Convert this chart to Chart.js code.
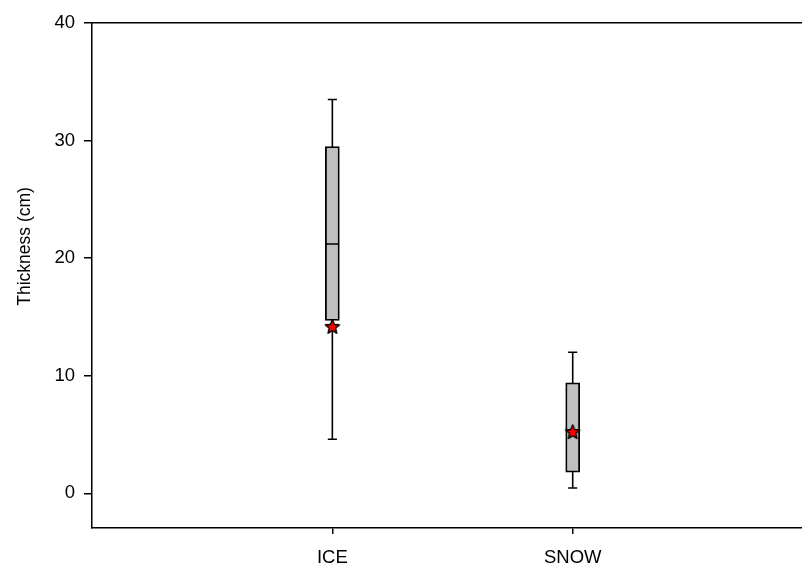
<!DOCTYPE html>
<html>
<head>
<meta charset="utf-8">
<script src="https://cdn.jsdelivr.net/npm/chart.js@4/dist/chart.umd.min.js"></script>
<style>
  html, body { margin: 0; padding: 0; background: #fff; }
  #wrap { width: 802px; height: 565px; }
</style>
</head>
<body>
<div id="wrap"><canvas id="boxChart"></canvas></div>
<script>
// box plot values (cm)
var categories = ['ICE', 'SNOW'];
var positions = [1, 2];
var whiskerLow = [4.6, 0.45];
var q1 = [14.7, 1.8];
var median = [21.2, 5.4];
var q3 = [29.5, 9.4];
var whiskerHigh = [33.5, 12.0];
var means = [14.2, 5.25];
var yTicks = [0, 10, 20, 30, 40];

var CAP = 0.019;   // half width of whisker caps, x units
var HALF = 0.027;  // half width of the box, x units
var TITLE_AT = 21; // y value the axis title is centred on

function makeStar(size) {
    var c = document.createElement('canvas');
    c.width = c.height = size;
    var g = c.getContext('2d');
    var cx = size / 2, cy = size / 2 + 0.8, R = size / 2 - 1, r = R * 0.45;
    g.beginPath();
    for (var i = 0; i < 10; i++) {
        var rad = i % 2 ? r : R;
        var a = -Math.PI / 2 + i * Math.PI / 5;
        g.lineTo(cx + rad * Math.cos(a), cy + rad * Math.sin(a));
    }
    g.closePath();
    g.fillStyle = '#ff0000';
    g.fill();
    g.lineWidth = 1.4;
    g.lineJoin = 'round';
    g.strokeStyle = '#000';
    g.stroke();
    return c;
}

var whiskerData = [];
positions.forEach(function (p, i) {
    whiskerData.push({x: p, y: whiskerLow[i]}, {x: p, y: whiskerHigh[i]}, {x: p, y: null});
    whiskerData.push({x: p - CAP, y: whiskerHigh[i]}, {x: p + CAP, y: whiskerHigh[i]}, {x: p, y: null});
    whiskerData.push({x: p - CAP, y: whiskerLow[i]}, {x: p + CAP, y: whiskerLow[i]}, {x: p, y: null});
});
var medianData = [];
positions.forEach(function (p, i) {
    medianData.push({x: p - HALF, y: median[i]}, {x: p + HALF, y: median[i]}, {x: p, y: null});
});

var yTitlePlugin = {
    id: 'yTitle',
    afterDraw: function (chart) {
        var ctx = chart.ctx;
        var y = chart.scales.y.getPixelForValue(TITLE_AT);
        ctx.save();
        ctx.translate(25, y);
        ctx.rotate(-Math.PI / 2);
        ctx.font = '17.5px "Liberation Sans", Arial, sans-serif';
        ctx.fillStyle = '#000';
        ctx.textAlign = 'center';
        ctx.textBaseline = 'middle';
        ctx.fillText('Thickness (cm)', 0, 0);
        ctx.restore();
    }
};

var font = { family: '"Liberation Sans", Arial, sans-serif', size: 18.5 };

function noSidePadding(axis) {
    axis.paddingLeft = 0;
    axis.paddingRight = 0;
}

var CHART = new Chart(document.getElementById('boxChart'), {
    type: 'bar',
    data: {
        datasets: [
            { type: 'line', data: whiskerData, borderColor: '#000', borderWidth: 1.6,
              pointRadius: 0, spanGaps: false, order: 3 },
            { type: 'bar', data: positions.map(function (p, i) { return {x: p, y: [q1[i], q3[i]]}; }),
              backgroundColor: '#c0c0c0', borderColor: '#000', borderWidth: 1.8,
              borderSkipped: false, barThickness: 14, order: 2 },
            { type: 'line', data: medianData, borderColor: '#000', borderWidth: 1.6,
              pointRadius: 0, spanGaps: false, order: 1 },
            { type: 'line', data: positions.map(function (p, i) { return {x: p, y: means[i]}; }),
              showLine: false, pointStyle: makeStar(17), pointRadius: 8, order: 0 }
        ]
    },
    options: {
        responsive: true,
        maintainAspectRatio: false,
        animation: false,
        layout: { autoPadding: false, padding: { top: 23, right: 0, left: 0, bottom: 0 } },
        plugins: { legend: { display: false }, tooltip: { enabled: false } },
        scales: {
            x: {
                type: 'linear', min: 0, max: 2.954, offset: false,
                grid: { display: true, drawOnChartArea: false, drawTicks: true, tickLength: 6,
                        color: '#000', lineWidth: 1.5, offset: false },
                border: { display: true, color: '#000', width: 1.5 },
                ticks: { color: '#000', font: font, padding: 13, maxRotation: 0,
                         callback: function (v, i) { return categories[i]; } },
                afterBuildTicks: function (axis) { axis.ticks = positions.map(function (v) { return {value: v}; }); },
                afterFit: function (axis) { axis.height = 37; noSidePadding(axis); }
            },
            x2: {
                type: 'linear', position: 'top', min: 0, max: 2.954,
                grid: { display: false, drawTicks: false },
                border: { display: true, color: '#000', width: 1.5 },
                ticks: { display: false },
                afterFit: function (axis) { axis.height = 0; noSidePadding(axis); }
            },
            y: {
                min: -2.95, max: 40,
                grid: { display: true, drawOnChartArea: false, drawTicks: true, tickLength: 8,
                        color: '#000', lineWidth: 1.5 },
                border: { display: true, color: '#000', width: 1.5 },
                ticks: { color: '#000', font: font, padding: 9 },
                afterBuildTicks: function (axis) { axis.ticks = yTicks.map(function (v) { return {value: v}; }); },
                afterFit: function (axis) { axis.width = 92; }
            }
        }
    },
    plugins: [yTitlePlugin]
});
</script>
</body>
</html>
